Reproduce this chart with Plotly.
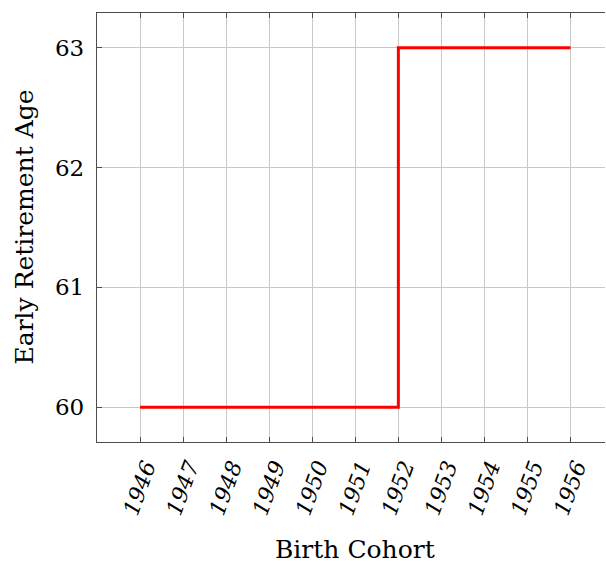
import plotly.graph_objects as go

cohorts = [1946, 1947, 1948, 1949, 1950, 1951, 1952, 1953, 1954, 1955, 1956]
early_age = [60, 60, 60, 60, 60, 60, 63, 63, 63, 63, 63]
y_ticks = [60, 61, 62, 63]

FONT = "DejaVu Serif"
AX = "#4d4d4d"
GRID = "#c8c8c8"

fig = go.Figure()
fig.add_trace(go.Scatter(x=cohorts, y=early_age, mode="lines",
                         line=dict(color="#ff0000", width=3, shape="hv"),
                         showlegend=False, hoverinfo="skip"))
# invisible trace for top axis
fig.add_trace(go.Scatter(x=cohorts, y=early_age, mode="lines", xaxis="x2",
                         line=dict(width=0), showlegend=False, hoverinfo="skip"))

xr = [1945, 1956.8]
fig.update_layout(
    width=606, height=563,
    margin=dict(l=97, r=1, t=13, b=121),
    plot_bgcolor="white", paper_bgcolor="white",
    font=dict(family=FONT, size=22, color="black"),
    xaxis=dict(range=xr, tickvals=cohorts, ticktext=[str(c) for c in cohorts],
               tickangle=-70, tickfont=dict(family=FONT, size=22, style="italic"),
               ticklabelshift=6, ticklabelstandoff=2,
               showgrid=True, gridcolor=GRID, gridwidth=1,
               showline=True, linecolor=AX, linewidth=1.3,
               ticks="inside", ticklen=5, tickcolor=AX, zeroline=False),
    xaxis2=dict(range=xr, tickvals=cohorts, overlaying="x", side="top",
                showticklabels=False, showgrid=False,
                showline=True, linecolor=AX, linewidth=1.3,
                ticks="inside", ticklen=5, tickcolor=AX, zeroline=False),
    yaxis=dict(range=[59.71, 63.29], tickvals=y_ticks,
               tickfont=dict(family=FONT, size=23), ticklabelstandoff=7,
               showgrid=True, gridcolor=GRID, gridwidth=1,
               showline=True, linecolor=AX, linewidth=1.3,
               ticks="inside", ticklen=5, tickcolor=AX, zeroline=False),
    annotations=[
        dict(text="Birth Cohort", x=1951, xref="x", y=0, yref="paper",
             yanchor="middle", showarrow=False, font=dict(family=FONT, size=25)),
        dict(text="Early Retirement Age", x=0, xref="paper", y=0.5, yref="paper",
             textangle=-90, xanchor="center", yanchor="middle", showarrow=False,
             font=dict(family=FONT, size=25)),
    ],
)
plot_h = 563 - 13 - 121
plot_w = 606 - 97 - 1
fig.layout.annotations[0].y = (563 - 121 - 549) / plot_h
fig.layout.annotations[1].x = (24 - 97) / plot_w

fig.write_html("out.html")
